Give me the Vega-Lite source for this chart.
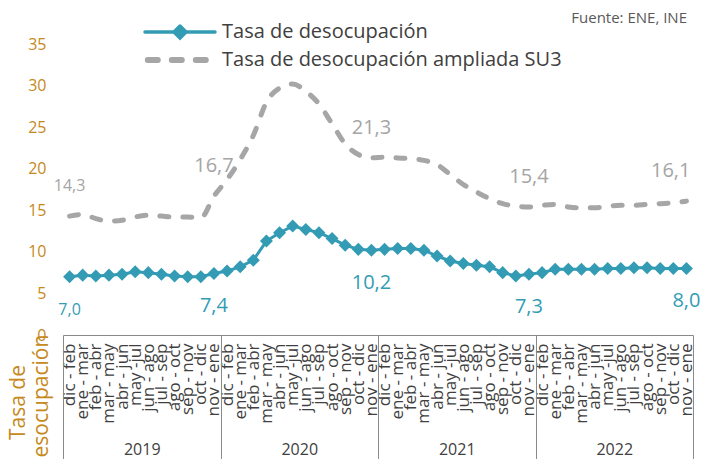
{
  "$schema": "https://vega.github.io/schema/vega-lite/v6.json",
  "width": 630,
  "height": 291,
  "autosize": {"type": "none"},
  "padding": {"left": 63, "top": 44, "right": 8, "bottom": 124},
  "background": "white",
  "config": {
    "view": {"stroke": null},
    "font": "Open Sans",
    "locale": {"number": {"decimal": ",", "thousands": ".", "grouping": [3], "currency": ["", ""]}}
  },
  "title": {"text": "Fuente: ENE, INE", "anchor": "end", "orient": "top", "frame": "group", "offset": -4, "fontSize": 15, "fontWeight": "normal", "color": "#595959", "dx": -6},
  "data": {"values": [
    {"key": "2019|dic - feb", "year": "2019", "i": 0, "tasa": 7.0, "su3": 14.3},
    {"key": "2019|ene - mar", "year": "2019", "i": 1, "tasa": 7.2, "su3": 14.5},
    {"key": "2019|feb - abr", "year": "2019", "i": 2, "tasa": 7.1, "su3": 14.0},
    {"key": "2019|mar - may", "year": "2019", "i": 3, "tasa": 7.2, "su3": 13.7},
    {"key": "2019|abr - jun", "year": "2019", "i": 4, "tasa": 7.3, "su3": 13.8},
    {"key": "2019|may -jul", "year": "2019", "i": 5, "tasa": 7.6, "su3": 14.2},
    {"key": "2019|jun - ago", "year": "2019", "i": 6, "tasa": 7.5, "su3": 14.4},
    {"key": "2019|jul - sep", "year": "2019", "i": 7, "tasa": 7.3, "su3": 14.3},
    {"key": "2019|ago - oct", "year": "2019", "i": 8, "tasa": 7.1, "su3": 14.2},
    {"key": "2019|sep - nov", "year": "2019", "i": 9, "tasa": 7.0, "su3": 14.2},
    {"key": "2019|oct - dic", "year": "2019", "i": 10, "tasa": 7.0, "su3": 14.1},
    {"key": "2019|nov - ene", "year": "2019", "i": 11, "tasa": 7.4, "su3": 16.7},
    {"key": "2020|dic - feb", "year": "2020", "i": 12, "tasa": 7.7, "su3": 18.7},
    {"key": "2020|ene - mar", "year": "2020", "i": 13, "tasa": 8.2, "su3": 21.1},
    {"key": "2020|feb - abr", "year": "2020", "i": 14, "tasa": 9.0, "su3": 24.0},
    {"key": "2020|mar - may", "year": "2020", "i": 15, "tasa": 11.3, "su3": 28.0},
    {"key": "2020|abr - jun", "year": "2020", "i": 16, "tasa": 12.3, "su3": 29.7},
    {"key": "2020|may -jul", "year": "2020", "i": 17, "tasa": 13.1, "su3": 30.2},
    {"key": "2020|jun - ago", "year": "2020", "i": 18, "tasa": 12.7, "su3": 29.3},
    {"key": "2020|jul - sep", "year": "2020", "i": 19, "tasa": 12.3, "su3": 27.8},
    {"key": "2020|ago - oct", "year": "2020", "i": 20, "tasa": 11.6, "su3": 25.4},
    {"key": "2020|sep - nov", "year": "2020", "i": 21, "tasa": 10.8, "su3": 23.0},
    {"key": "2020|oct - dic", "year": "2020", "i": 22, "tasa": 10.3, "su3": 21.7},
    {"key": "2020|nov - ene", "year": "2020", "i": 23, "tasa": 10.2, "su3": 21.3},
    {"key": "2021|dic - feb", "year": "2021", "i": 24, "tasa": 10.3, "su3": 21.4},
    {"key": "2021|ene - mar", "year": "2021", "i": 25, "tasa": 10.4, "su3": 21.3},
    {"key": "2021|feb - abr", "year": "2021", "i": 26, "tasa": 10.4, "su3": 21.2},
    {"key": "2021|mar - may", "year": "2021", "i": 27, "tasa": 10.2, "su3": 21.0},
    {"key": "2021|abr - jun", "year": "2021", "i": 28, "tasa": 9.5, "su3": 20.5},
    {"key": "2021|may -jul", "year": "2021", "i": 29, "tasa": 8.9, "su3": 19.3},
    {"key": "2021|jun - ago", "year": "2021", "i": 30, "tasa": 8.6, "su3": 18.1},
    {"key": "2021|jul - sep", "year": "2021", "i": 31, "tasa": 8.4, "su3": 17.2},
    {"key": "2021|ago - oct", "year": "2021", "i": 32, "tasa": 8.2, "su3": 16.4},
    {"key": "2021|sep - nov", "year": "2021", "i": 33, "tasa": 7.5, "su3": 15.8},
    {"key": "2021|oct - dic", "year": "2021", "i": 34, "tasa": 7.1, "su3": 15.5},
    {"key": "2021|nov - ene", "year": "2021", "i": 35, "tasa": 7.3, "su3": 15.4},
    {"key": "2022|dic - feb", "year": "2022", "i": 36, "tasa": 7.5, "su3": 15.6},
    {"key": "2022|ene - mar", "year": "2022", "i": 37, "tasa": 7.9, "su3": 15.7},
    {"key": "2022|feb - abr", "year": "2022", "i": 38, "tasa": 7.9, "su3": 15.4},
    {"key": "2022|mar - may", "year": "2022", "i": 39, "tasa": 7.9, "su3": 15.3},
    {"key": "2022|abr - jun", "year": "2022", "i": 40, "tasa": 7.9, "su3": 15.3},
    {"key": "2022|may -jul", "year": "2022", "i": 41, "tasa": 8.0, "su3": 15.5},
    {"key": "2022|jun - ago", "year": "2022", "i": 42, "tasa": 8.0, "su3": 15.6},
    {"key": "2022|jul - sep", "year": "2022", "i": 43, "tasa": 8.1, "su3": 15.6},
    {"key": "2022|ago - oct", "year": "2022", "i": 44, "tasa": 8.1, "su3": 15.7},
    {"key": "2022|sep - nov", "year": "2022", "i": 45, "tasa": 8.0, "su3": 15.8},
    {"key": "2022|oct - dic", "year": "2022", "i": 46, "tasa": 8.0, "su3": 15.9},
    {"key": "2022|nov - ene", "year": "2022", "i": 47, "tasa": 8.0, "su3": 16.1}
  ]},
  "layer": [
    {
      "layer": [
        {
          "mark": {"type": "line", "strokeWidth": 5, "strokeDash": [9, 14], "strokeCap": "round", "interpolate": "monotone"},
          "encoding": {
            "x": {"field": "key", "type": "ordinal", "sort": null,
              "axis": {"title": null, "labelExpr": "split(datum.label, '|')[1]", "labelAngle": 270, "labelAlign": "right", "labelBaseline": "middle", "labelPadding": 8, "labelFontSize": 17, "labelColor": "#404040", "labelOverlap": false, "labelBound": false, "ticks": false, "grid": false, "domain": true, "domainColor": "#8a8a8a", "domainWidth": 1, "orient": "bottom"}},
            "y": {"field": "su3", "type": "quantitative", "scale": {"domain": [0, 35], "nice": false},
              "axis": {"values": [0, 5, 10, 15, 20, 25, 30, 35], "grid": false, "domain": false, "ticks": false, "labelFontSize": 16, "labelColor": "#c5891c", "labelPadding": 17,
                "title": ["Tasa  de", "desocupación"], "titleColor": "#c5891c", "titleFontSize": 21, "titleFontWeight": "normal", "titleAngle": 270, "titleAlign": "center", "titleBaseline": "top", "titleLineHeight": 23, "titleX": -56, "titleY": 358}},
            "color": {"datum": "Tasa de desocupación ampliada SU3", "type": "nominal",
              "scale": {"domain": ["Tasa de desocupación", "Tasa de desocupación ampliada SU3"], "range": ["#339cb4", "#a6a6a6"]},
              "legend": {"title": null, "orient": "none", "legendX": 82, "legendY": -22, "padding": 0, "labelFontSize": 20, "labelColor": "#404040", "labelOffset": 7, "labelLimit": 600, "rowPadding": 3,
                "encode": {
                  "symbols": {"update": {
                    "x": {"value": 35},
                    "size": {"value": 4900},
                    "shape": {"signal": "datum.value === 'Tasa de desocupación' ? 'M-1,0L1,0M0,-0.17L0.17,0L0,0.17L-0.17,0Z' : 'M-0.92,0L0.92,0'"},
                    "fill": {"signal": "datum.value === 'Tasa de desocupación' ? '#339cb4' : 'transparent'"},
                    "stroke": {"signal": "datum.value === 'Tasa de desocupación' ? '#339cb4' : '#a6a6a6'"},
                    "strokeWidth": {"signal": "datum.value === 'Tasa de desocupación' ? 3.5 : 6"},
                    "strokeDash": {"signal": "datum.value === 'Tasa de desocupación' ? [200, 0] : [10, 14]"},
                    "strokeCap": {"value": "round"},
                    "opacity": {"value": 1}
                  }},
                  "labels": {"update": {"x": {"value": 77}}}
                }}}
          }
        },
        {
          "mark": {"type": "line", "strokeWidth": 3},
          "encoding": {
            "x": {"field": "key", "type": "ordinal", "sort": null},
            "y": {"field": "tasa", "type": "quantitative"},
            "color": {"datum": "Tasa de desocupación", "type": "nominal"}
          }
        },
        {
          "mark": {"type": "point", "shape": "diamond", "filled": true, "size": 170, "color": "#339cb4", "opacity": 1},
          "encoding": {
            "x": {"field": "key", "type": "ordinal", "sort": null},
            "y": {"field": "tasa", "type": "quantitative"}
          }
        },
        {
          "transform": [{"filter": "datum.i === 0 || indexof(datum.key, 'nov - ene') >= 0"}],
          "mark": {"type": "text", "dy": 33, "color": "#339cb4"},
          "encoding": {
            "x": {"field": "key", "type": "ordinal", "sort": null},
            "y": {"field": "tasa", "type": "quantitative"},
            "text": {"field": "tasa", "type": "quantitative", "format": ".1f"},
            "size": {"condition": {"test": "datum.i === 0", "value": 16}, "value": 20}
          }
        },
        {
          "transform": [{"filter": "datum.i === 0 || (indexof(datum.key, 'nov - ene') >= 0 && datum.i !== 47)"}],
          "mark": {"type": "text", "dy": -30, "color": "#a5a5a5"},
          "encoding": {
            "x": {"field": "key", "type": "ordinal", "sort": null},
            "y": {"field": "su3", "type": "quantitative"},
            "text": {"field": "su3", "type": "quantitative", "format": ".1f"},
            "size": {"condition": {"test": "datum.i === 0", "value": 16}, "value": 20}
          }
        },
        {
          "transform": [{"filter": "datum.i === 47"}],
          "mark": {"type": "text", "dy": -30, "dx": 4, "align": "right", "color": "#a5a5a5", "fontSize": 20},
          "encoding": {
            "x": {"field": "key", "type": "ordinal", "sort": null},
            "y": {"field": "su3", "type": "quantitative"},
            "text": {"field": "su3", "type": "quantitative", "format": ".1f"}
          }
        }
      ]
    },
    {
      "mark": {"type": "text", "opacity": 0},
      "encoding": {
        "x": {"field": "year", "type": "ordinal", "scale": {"type": "band", "paddingInner": 0, "paddingOuter": 0},
          "axis": {"orient": "bottom", "title": null, "domain": false, "grid": false, "ticks": true, "tickBand": "extent", "tickSize": 124, "tickColor": "#8a8a8a", "tickWidth": 1, "labelAngle": 0, "labelFontSize": 16, "labelColor": "#404040", "labelPadding": -10, "labelBaseline": "middle"}}
      }
    }
  ],
  "resolve": {"scale": {"x": "independent"}}
}
